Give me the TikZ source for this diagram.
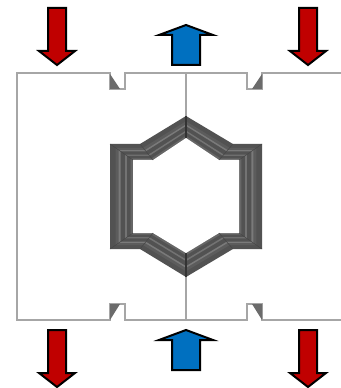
\documentclass[tikz,border=0pt]{standalone}
\usetikzlibrary{calc}
\definecolor{pushred}{RGB}{192,0,0}
\definecolor{pushblue}{RGB}{0,112,192}
\tikzset{
  wall/.style={draw=black!35!white, line width=.9pt},
  wedge/.style={fill=black!58!white},
  pusharrow/.style={draw=black, line width=1.5pt, miter limit=10},
}
\begin{document}
\begin{tikzpicture}[x=.75pt,y=-.75pt]
\useasboundingbox (0,0) rectangle (341,388);
% frame with the four notches
\draw[wall] (341,73) -- (262,73) -- (262,89) -- (247,89) -- (247,73) -- (125,73) -- (125,89) -- (110,89) -- (110,73) -- (17,73)
  -- (17,320) -- (110,320) -- (110,304) -- (125,304) -- (125,320) -- (247,320) -- (247,304) -- (262,304) -- (262,320) -- (341,320);
\draw[wall] (186,73) -- (186,320);
\fill[wedge] (110,74) -- (110,89) -- (120,89) -- cycle;
\fill[wedge] (262,74) -- (262,89) -- (252,89) -- cycle;
\fill[wedge] (110,320) -- (110,304) -- (120,304) -- cycle;
\fill[wedge] (262,320) -- (262,304) -- (252,304) -- cycle;
% hexagon
\foreach \k/\a/\b/\c/\d in {1/186/116/186/138, 2/233/144/219/160, 3/262/144/239/160, 4/262/249/239/233, 5/233/249/219/233,
  6/186/277/186/253, 7/140/249/153/233, 8/110/249/133/233, 9/110/144/133/160, 10/140/144/153/160} {
  \coordinate (o\k) at (\a,\b);
  \coordinate (i\k) at (\c,\d);
}
\foreach \t/\g in {0/68, .24/64, .38/52, .46/68, .66/55, .74/68, .9/60} {
  \fill[black!\g!white] ($(o1)!\t!(i1)$) \foreach \k in {2,...,10} { -- ($(o\k)!\t!(i\k)$) } -- cycle;
}
\fill[white] (i1) \foreach \k in {2,...,10} { -- (i\k) } -- cycle;
\foreach \k in {2,3,4,5,7,8,9,10}
\draw[black!72!white, line width=.4pt] (o\k) -- (i\k);
\draw[black!80!white, line width=.8pt] (o1) -- (i1) (o6) -- (i6);
% arrows
\foreach \x/\y in {57/8, 308/8, 57/330, 308/330}
\draw[pusharrow, fill=pushred, shift={(\x,\y)}] (-9,0) -- (9,0) -- (9,43) -- (18,43) -- (0,57) -- (-18,43) -- (-9,43) -- cycle;
\foreach \y in {25, 330}
\draw[pusharrow, fill=pushblue, shift={(186,\y)}] (-14,40) -- (14,40) -- (14,10) -- (27,10) -- (0,0) -- (-27,10) -- (-14,10) -- cycle;
\end{tikzpicture}
\end{document}
